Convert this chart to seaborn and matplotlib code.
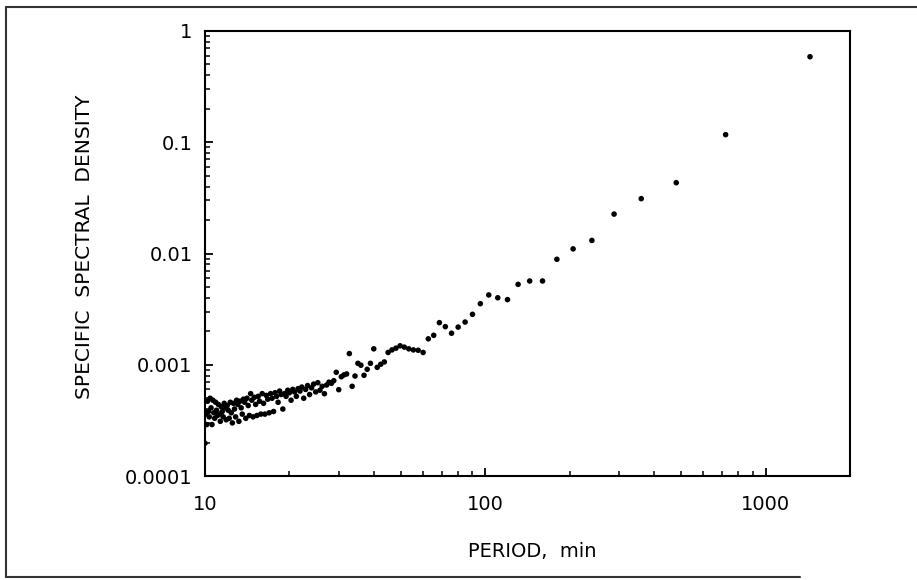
import matplotlib
matplotlib.use("Agg")
import matplotlib.pyplot as plt
from matplotlib.lines import Line2D
from matplotlib.ticker import FixedLocator, FixedFormatter, LogLocator, NullFormatter
import seaborn as sns
import pandas as pd

# Period (min) of each spectral estimate
period_min = [
    1440, 720, 480, 360, 288, 240, 205.71, 180, 160, 144,
    130.91, 120, 110.77, 102.86, 96, 90, 84.71, 80, 75.79, 72,
    68.57, 65.45, 62.61, 60, 57.6, 55.38, 53.33, 51.43, 49.66, 48,
    46.45, 45, 43.64, 42.35, 41.14, 40, 38.92, 37.89, 36.92, 36,
    35.12, 34.29, 33.49, 32.73, 32, 31.3, 30.64, 30, 29.39, 28.8,
    28.24, 27.69, 27.17, 26.67, 26.18, 25.71, 25.26, 24.83, 24.41, 24,
    23.61, 23.23, 22.86, 22.5, 22.15, 21.82, 21.49, 21.18, 20.87, 20.57,
    20.28, 20, 19.73, 19.46, 19.2, 18.95, 18.7, 18.46, 18.23, 18,
    17.78, 17.56, 17.35, 17.14, 16.94, 16.74, 16.55, 16.36, 16.18, 16,
    15.82, 15.65, 15.48, 15.32, 15.16, 15, 14.85, 14.69, 14.55, 14.4,
    14.26, 14.12, 13.98, 13.85, 13.71, 13.58, 13.46, 13.33, 13.21, 13.09,
    12.97, 12.86, 12.74, 12.63, 12.52, 12.41, 12.31, 12.2, 12.1, 12,
    11.9, 11.8, 11.71, 11.61, 11.52, 11.43, 11.34, 11.25, 11.16, 11.08,
    10.99, 10.91, 10.83, 10.75, 10.67, 10.59, 10.51, 10.43, 10.36, 10.29,
    10.21, 10.14, 10.07, 10,
]

# Specific spectral density
density = [
    0.587, 0.117, 0.0433, 0.0311, 0.0226, 0.0131, 0.0110, 0.00887, 0.00566, 0.00566,
    0.00528, 0.00385, 0.0040, 0.00424, 0.00354, 0.00284, 0.00242, 0.00218, 0.00192, 0.0022,
    0.00239, 0.00184, 0.00171, 0.00129, 0.00135, 0.00136, 0.00139, 0.00144, 0.00148, 0.00141,
    0.00136, 0.00129, 0.00106, 0.00101, 0.000948, 0.00139, 0.00103, 0.00091, 0.000804, 0.00099,
    0.00103, 0.000792, 0.00064, 0.00126, 0.000826, 0.00081, 0.00078, 0.000597, 0.000855, 0.000719,
    0.000681, 0.000697, 0.000658, 0.000549, 0.00064, 0.00059, 0.00069, 0.00057, 0.00067, 0.00062,
    0.00054, 0.00065, 0.00060, 0.00050, 0.00063, 0.00058, 0.00061, 0.00052, 0.00057, 0.00060,
    0.00048, 0.00056, 0.00059, 0.00052, 0.00055, 0.00040, 0.00054, 0.00058, 0.00046, 0.00052,
    0.00056, 0.00038, 0.00050, 0.00055, 0.00037, 0.00049, 0.00053, 0.00036, 0.00045, 0.00055,
    0.00036, 0.00047, 0.00052, 0.00035, 0.00044, 0.00051, 0.00034, 0.00048, 0.00055, 0.00035,
    0.00043, 0.00050, 0.00033, 0.00046, 0.00049, 0.00036, 0.00041, 0.00047, 0.00031, 0.00044,
    0.00048, 0.00034, 0.00040, 0.00045, 0.00030, 0.00037, 0.00046, 0.00033, 0.00039, 0.00043,
    0.00032, 0.00041, 0.00045, 0.00034, 0.00038, 0.00042, 0.00031, 0.00036, 0.00044, 0.00035,
    0.00039, 0.00046, 0.00033, 0.00037, 0.00048, 0.00029, 0.00041, 0.00050, 0.00034, 0.00038,
    0.00047, 0.00029, 0.00036, 0.000197,
]

x_ticks = [10, 100, 1000]
x_tick_labels = ["10", "100", "1000"]
y_ticks = [0.0001, 0.001, 0.01, 0.1, 1]
y_tick_labels = ["0.0001", "0.001", "0.01", "0.1", "1"]

sns.set_style("ticks")
plt.rcParams["font.family"] = ["DejaVu Sans"]
plt.rcParams["text.color"] = "black"
plt.rcParams["axes.labelcolor"] = "black"

df = pd.DataFrame({"period": period_min, "density": density})

fig = plt.figure(figsize=(9.17, 5.80), dpi=100)
ax = fig.add_axes([205 / 917, 1 - 476 / 580, 645 / 917, 445 / 580])

sns.scatterplot(data=df, x="period", y="density", ax=ax, color="black",
                s=16, edgecolor="none", linewidth=0, legend=False)

ax.set_xscale("log")
ax.set_yscale("log")
ax.set_xlim(10, 2000)
ax.set_ylim(0.0001, 1)

ax.xaxis.set_major_locator(FixedLocator(x_ticks))
ax.xaxis.set_major_formatter(FixedFormatter(x_tick_labels))
ax.yaxis.set_major_locator(FixedLocator(y_ticks))
ax.yaxis.set_major_formatter(FixedFormatter(y_tick_labels))
ax.xaxis.set_minor_locator(LogLocator(base=10, subs=range(2, 10), numticks=20))
ax.yaxis.set_minor_locator(LogLocator(base=10, subs=range(2, 10), numticks=20))
ax.xaxis.set_minor_formatter(NullFormatter())
ax.yaxis.set_minor_formatter(NullFormatter())

ax.tick_params(which="both", direction="in", top=False, right=False,
               colors="black", labelcolor="black")
ax.tick_params(which="major", length=6, width=1.3, labelsize=14)
ax.tick_params(which="minor", length=3.5, width=1.1)
ax.tick_params(axis="x", which="major", pad=14)
ax.tick_params(axis="y", which="major", pad=9)

for sp in ax.spines.values():
    sp.set_visible(True)
    sp.set_linewidth(1.5)
    sp.set_color("black")

ax.set_xlabel("PERIOD,  min", fontsize=14, color="black")
ax.set_ylabel("SPECIFIC  SPECTRAL  DENSITY", fontsize=14.5, color="black")
ax.xaxis.set_label_coords(0.507, -0.148)
ax.yaxis.set_label_coords(-0.172, 0.515)

# outer frame of the figure
frame_kw = dict(color="#333333", linewidth=1.5, transform=fig.transFigure)
fig.add_artist(Line2D([6 / 917, 6 / 917], [1 - 7 / 580, 1 - 577 / 580], **frame_kw))
fig.add_artist(Line2D([6 / 917, 1.0], [1 - 7 / 580, 1 - 7 / 580], **frame_kw))
fig.add_artist(Line2D([6 / 917, 800 / 917], [1 - 577 / 580, 1 - 577 / 580], **frame_kw))

fig.savefig("out.png", dpi=100)
